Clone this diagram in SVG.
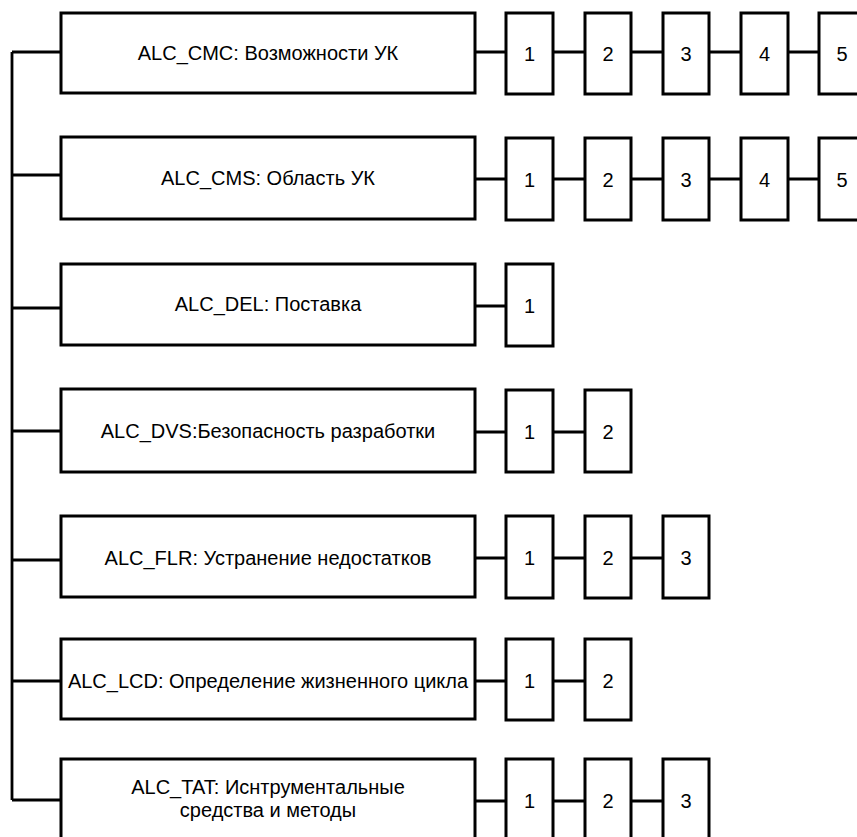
<svg xmlns="http://www.w3.org/2000/svg" width="857" height="837" viewBox="0 0 857 837">
<style>
.box{fill:#fff;stroke:#000;stroke-width:3}
.ln{fill:none;stroke:#000;stroke-width:2.8}
.t{font-family:"Liberation Sans",Arial,sans-serif;font-size:20px;fill:#000;text-anchor:middle}
.d{font-family:"Liberation Sans",Arial,sans-serif;font-size:20px;fill:#000;text-anchor:middle}
</style>
<rect width="857" height="837" fill="#fff"/>
<g id="connectors">
<path class="ln" d="M12 52 V800 M12 52 H61 M12 175 H61 M12 308 H61 M12 431 H61 M12 560 H61 M12 681 H61 M12 800 H61"/>
<path class="ln" d="M475 52 H819 M475 179 H819 M475 306 H506 M475 432 H585 M475 558 H663 M475 681 H585 M475 801 H663"/>
</g>
<g id="n1"><rect class="box" x="61" y="13" width="414" height="80"/><text class="t" x="268" y="60">ALC_CMC: Возможности УК</text></g>
<g id="n1-1"><rect class="box" x="506" y="13" width="47" height="81"/><text class="d" x="529.5" y="61">1</text></g>
<g id="n1-2"><rect class="box" x="585" y="13" width="46" height="81"/><text class="d" x="608" y="61">2</text></g>
<g id="n1-3"><rect class="box" x="663" y="13" width="46" height="81"/><text class="d" x="686" y="61">3</text></g>
<g id="n1-4"><rect class="box" x="741" y="13" width="47" height="81"/><text class="d" x="764.5" y="61">4</text></g>
<g id="n1-5"><rect class="box" x="819" y="13" width="47" height="81"/><text class="d" x="842" y="61">5</text></g>

<g id="n2"><rect class="box" x="61" y="137" width="414" height="82"/><text class="t" x="268" y="185">ALC_CMS: Область УК</text></g>
<g id="n2-1"><rect class="box" x="506" y="138" width="47" height="82"/><text class="d" x="529.5" y="187">1</text></g>
<g id="n2-2"><rect class="box" x="585" y="138" width="46" height="82"/><text class="d" x="608" y="187">2</text></g>
<g id="n2-3"><rect class="box" x="663" y="138" width="46" height="82"/><text class="d" x="686" y="187">3</text></g>
<g id="n2-4"><rect class="box" x="741" y="138" width="47" height="82"/><text class="d" x="764.5" y="187">4</text></g>
<g id="n2-5"><rect class="box" x="819" y="138" width="47" height="82"/><text class="d" x="842" y="187">5</text></g>

<g id="n3"><rect class="box" x="61" y="264" width="414" height="81"/><text class="t" x="268" y="311">ALC_DEL: Поставка</text></g>
<g id="n3-1"><rect class="box" x="506" y="264" width="47" height="82"/><text class="d" x="529.5" y="313">1</text></g>

<g id="n4"><rect class="box" x="61" y="389" width="414" height="83"/><text class="t" x="268" y="438">ALC_DVS:Безопасность разработки</text></g>
<g id="n4-1"><rect class="box" x="506" y="390" width="47" height="82"/><text class="d" x="529.5" y="439">1</text></g>
<g id="n4-2"><rect class="box" x="585" y="390" width="46" height="82"/><text class="d" x="608" y="439">2</text></g>

<g id="n5"><rect class="box" x="61" y="516" width="414" height="81"/><text class="t" x="268" y="565">ALC_FLR: Устранение недостатков</text></g>
<g id="n5-1"><rect class="box" x="506" y="516" width="47" height="82"/><text class="d" x="529.5" y="565">1</text></g>
<g id="n5-2"><rect class="box" x="585" y="516" width="46" height="82"/><text class="d" x="608" y="565">2</text></g>
<g id="n5-3"><rect class="box" x="663" y="516" width="46" height="82"/><text class="d" x="686" y="565">3</text></g>

<g id="n6"><rect class="box" x="61" y="639" width="414" height="80"/><text class="t" x="268" y="688">ALC_LCD: Определение жизненного цикла</text></g>
<g id="n6-1"><rect class="box" x="506" y="639" width="47" height="81"/><text class="d" x="529.5" y="688">1</text></g>
<g id="n6-2"><rect class="box" x="585" y="639" width="46" height="81"/><text class="d" x="608" y="688">2</text></g>

<g id="n7"><rect class="box" x="61" y="759" width="414" height="82"/><text class="t" x="268" y="794">ALC_TAT: Иснтрументальные</text><text class="t" x="268" y="817">средства и методы</text></g>
<g id="n7-1"><rect class="box" x="506" y="759" width="47" height="82"/><text class="d" x="529.5" y="808">1</text></g>
<g id="n7-2"><rect class="box" x="585" y="759" width="46" height="82"/><text class="d" x="608" y="808">2</text></g>
<g id="n7-3"><rect class="box" x="663" y="759" width="46" height="82"/><text class="d" x="686" y="808">3</text></g>
</svg>
